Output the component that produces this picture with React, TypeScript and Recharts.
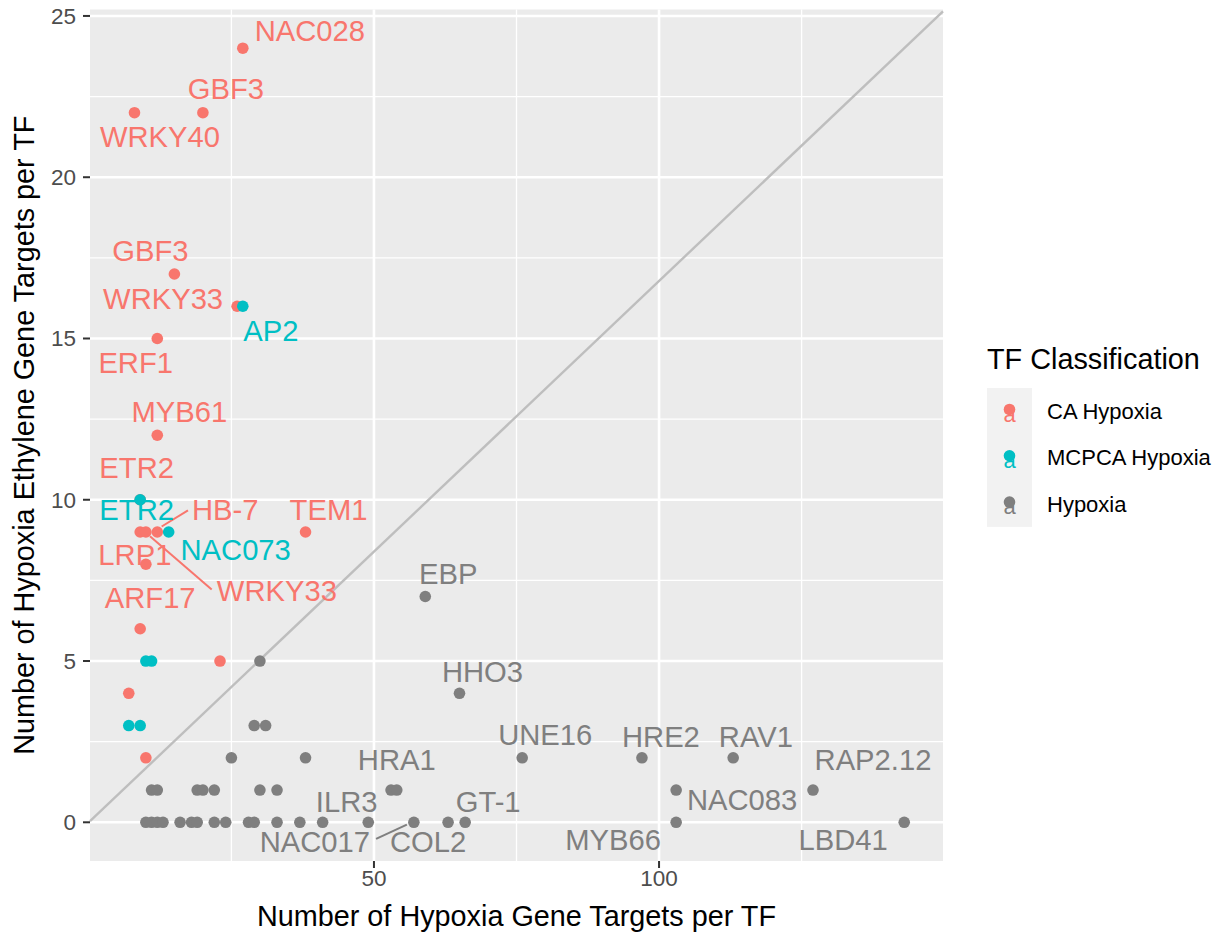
import { ScatterChart, Scatter, XAxis, YAxis, CartesianGrid, ReferenceLine } from 'recharts';

const FONT = "'Liberation Sans', Arial, Helvetica, sans-serif";

const COLORS = {
  ca: '#F8766D',
  mcpca: '#00BFC4',
  hypoxia: '#7F7F7F',
  panel: '#EBEBEB',
  keyBg: '#F2F2F2',
  diag: '#BEBEBE',
  tickText: '#4D4D4D',
  tick: '#333333',
};

// CA Hypoxia TFs (x = hypoxia targets, y = hypoxia ethylene targets)
const CA_NAMES = ['NAC028', 'GBF3', 'WRKY40', 'GBF3', 'WRKY33', 'ERF1', 'MYB61', 'ETR2', '', 'WRKY33', 'HB-7', 'TEM1', 'LRP1', 'ARF17', '', '', ''];
const CA_X = [27, 20, 8, 15, 26, 12, 12, 9, 9, 10, 12, 38, 10, 9, 23, 7, 10];
const CA_Y = [24, 22, 22, 17, 16, 15, 12, 10, 9, 9, 9, 9, 8, 6, 5, 4, 2];

// MCPCA Hypoxia TFs
const MCPCA_NAMES = ['AP2', 'ETR2', 'NAC073', '', '', '', ''];
const MCPCA_X = [27, 9, 14, 10, 11, 7, 9];
const MCPCA_Y = [16, 10, 9, 5, 5, 3, 3];

// Hypoxia-only TFs
const HYP_NAMES = [
  'EBP', 'HHO3', '', '', '', '', '', 'UNE16', 'HRE2', 'RAV1',
  '', '', '', '', '', '', '', '', 'HRA1', 'NAC083', 'RAP2.12',
  '', '', '', '', '', '', '', '', '', '', '', '', '', 'ILR3', '', 'NAC017', 'COL2', 'GT-1', 'MYB66', 'LBD41',
];
const HYP_X = [
  59, 65, 30, 29, 31, 25, 38, 76, 97, 113,
  11, 12, 19, 20, 22, 30, 33, 53, 54, 103, 127,
  10, 11, 12, 13, 16, 18, 19, 22, 24, 28, 29, 33, 37, 41, 49, 57, 63, 66, 103, 143,
];
const HYP_Y = [
  7, 4, 5, 3, 3, 2, 2, 2, 2, 2,
  1, 1, 1, 1, 1, 1, 1, 1, 1, 1, 1,
  0, 0, 0, 0, 0, 0, 0, 0, 0, 0, 0, 0, 0, 0, 0, 0, 0, 0, 0, 0,
];

const CLASS_NAMES = ['CA Hypoxia', 'MCPCA Hypoxia', 'Hypoxia'];

const X_TICKS = [50, 100];
const X_MINOR = [25, 75, 125];
const Y_TICKS = [0, 5, 10, 15, 20, 25];
const Y_MINOR = [2.5, 7.5, 12.5, 17.5, 22.5];
const X_DOMAIN: [number, number] = [0.2, 149.8];
const Y_DOMAIN: [number, number] = [-1.2, 25.2];

// reference line through the origin: max ethylene targets / max hypoxia targets
const DIAG_SLOPE = 24 / 143;

// chart geometry
const W = 1227;
const H = 934;
const PLOT_LEFT = 90;
const PLOT_RIGHT = 943;
const PLOT_TOP = 9.5;
const PLOT_BOTTOM = 861;

const LABEL_SIZE = 29.2;
const POINT_R = 5.8;

// repelled label placement, px offsets from the point centre (label centre),
// plus optional leader segment [x1, y1, x2, y2] relative to the point
type LabelPos = { dx: number; dy: number; seg?: [number, number, number, number] };
const LABEL_POS: Record<string, LabelPos> = {
  'ca-0': { dx: 67, dy: -18 },
  'ca-1': { dx: 23, dy: -24 },
  'ca-2': { dx: 25.5, dy: 23.5 },
  'ca-3': { dx: -24, dy: -23 },
  'ca-4': { dx: -74, dy: -8 },
  'ca-5': { dx: -21.6, dy: 24 },
  'ca-6': { dx: 22, dy: -24 },
  'ca-7': { dx: -3.5, dy: -32 },
  'ca-9': { dx: 131, dy: 59, seg: [4.1, 4.3, 65.8, 57.5] },
  'ca-10': { dx: 68, dy: -22, seg: [4.4, -5.5, 30.7, -21.7] },
  'ca-11': { dx: 23, dy: -22 },
  'ca-12': { dx: -11, dy: -10 },
  'ca-13': { dx: 10, dy: -31 },
  'mcpca-0': { dx: 28, dy: 24 },
  'mcpca-1': { dx: -3.5, dy: 10 },
  'mcpca-2': { dx: 67, dy: 17.5 },
  'hyp-0': { dx: 23, dy: -23 },
  'hyp-1': { dx: 23, dy: -22 },
  'hyp-7': { dx: 23, dy: -23 },
  'hyp-8': { dx: 19, dy: -21.5 },
  'hyp-9': { dx: 22.7, dy: -21.5 },
  'hyp-18': { dx: 0, dy: -30 },
  'hyp-19': { dx: 66, dy: 9.5 },
  'hyp-20': { dx: 60, dy: -30 },
  'hyp-34': { dx: 24, dy: -21 },
  'hyp-36': { dx: -99, dy: 19, seg: [-7, 2.3, -37.8, 16.6] },
  'hyp-37': { dx: -20, dy: 19 },
  'hyp-38': { dx: 23, dy: -21 },
  'hyp-39': { dx: -63, dy: 17 },
  'hyp-40': { dx: -61, dy: 17 },
};

type Pt = { x: number; y: number; name: string; color: string; key: string };

const build = (id: string, names: string[], xs: number[], ys: number[], color: string): Pt[] =>
  names.map((name, i) => ({ x: xs[i], y: ys[i], name, color, key: `${id}-${i}` }));

const caPoints = build('ca', CA_NAMES, CA_X, CA_Y, COLORS.ca);
const mcpcaPoints = build('mcpca', MCPCA_NAMES, MCPCA_X, MCPCA_Y, COLORS.mcpca);
const hypPoints = build('hyp', HYP_NAMES, HYP_X, HYP_Y, COLORS.hypoxia);
const labelPoints = [...caPoints, ...mcpcaPoints, ...hypPoints].filter((p) => p.name && LABEL_POS[p.key]);

const Dot = (props: any) => (
  <circle cx={props.cx} cy={props.cy} r={POINT_R} fill={props.payload.color} />
);

const RepelLabel = (props: any) => {
  const p: Pt = props.payload;
  const pos = LABEL_POS[p.key];
  const { cx, cy } = props;
  return (
    <g>
      {pos.seg && (
        <line
          x1={cx + pos.seg[0]} y1={cy + pos.seg[1]}
          x2={cx + pos.seg[2]} y2={cy + pos.seg[3]}
          stroke={p.color} strokeWidth={2}
        />
      )}
      <text
        x={cx + pos.dx}
        y={cy + pos.dy + LABEL_SIZE * 0.358}
        textAnchor="middle"
        fontSize={LABEL_SIZE}
        fontFamily={FONT}
        fill={p.color}
      >
        {p.name}
      </text>
    </g>
  );
};

const XTick = ({ x, y, payload }: any) => (
  <text x={x} y={y + 18} textAnchor="middle" fontSize={22.5} fontFamily={FONT} fill={COLORS.tickText}>
    {payload.value}
  </text>
);

const YTick = ({ x, y, payload }: any) => (
  <text x={x} y={y + 8} textAnchor="end" fontSize={22.5} fontFamily={FONT} fill={COLORS.tickText}>
    {payload.value}
  </text>
);

const XTitle = () => (
  <text x={(PLOT_LEFT + PLOT_RIGHT) / 2} y={926} textAnchor="middle" fontSize={28.8} fontFamily={FONT} fill="#000">
    Number of Hypoxia Gene Targets per TF
  </text>
);

const YTitle = () => (
  <text
    transform={`translate(34, ${(PLOT_TOP + PLOT_BOTTOM) / 2}) rotate(-90)`}
    textAnchor="middle"
    fontSize={28.8}
    fontFamily={FONT}
    fill="#000"
  >
    Number of Hypoxia Ethylene Gene Targets per TF
  </text>
);

function ClassLegend() {
  const colors = [COLORS.ca, COLORS.mcpca, COLORS.hypoxia];
  const keyTop = 388;
  const keyH = 46.3;
  return (
    <svg width={W} height={H} style={{ position: 'absolute', left: 0, top: 0, pointerEvents: 'none' }}>
      <text x={987} y={369} fontSize={28.8} fontFamily={FONT} fill="#000">TF Classification</text>
      <rect x={987} y={keyTop} width={45} height={keyH * 3} fill={COLORS.keyBg} />
      {CLASS_NAMES.map((name, i) => {
        const cy = keyTop + keyH * (i + 0.5);
        return (
          <g key={name}>
            <circle cx={1009.5} cy={cy - 1.7} r={POINT_R} fill={colors[i]} />
            <text x={1009.5} y={cy + 10.5} textAnchor="middle" fontSize={22} fontFamily={FONT} fill={colors[i]}>a</text>
            <text x={1047} y={cy + 8} fontSize={22} fontFamily={FONT} fill="#000">{name}</text>
          </g>
        );
      })}
    </svg>
  );
}

export default function App() {
  return (
    <div style={{ position: 'absolute', left: 0, top: 0, width: W, height: H, background: '#fff' }}>
      <ScatterChart
        width={W}
        height={H}
        margin={{ top: PLOT_TOP, right: W - PLOT_RIGHT, bottom: 0, left: 0 }}
      >
        <CartesianGrid
          horizontalValues={Y_MINOR}
          verticalValues={X_MINOR}
          stroke="#FFFFFF"
          strokeWidth={1.3}
          fill={COLORS.panel}
        />
        <CartesianGrid
          horizontalValues={Y_TICKS}
          verticalValues={X_TICKS}
          stroke="#FFFFFF"
          strokeWidth={2.6}
          fill="none"
        />
        <XAxis
          type="number"
          dataKey="x"
          domain={X_DOMAIN}
          allowDataOverflow
          ticks={X_TICKS}
          interval={0}
          height={H - PLOT_BOTTOM}
          axisLine={false}
          tickLine={{ stroke: COLORS.tick, strokeWidth: 2 }}
          tickSize={7}
          tickMargin={0}
          tick={XTick}
          label={{ content: XTitle }}
        />
        <YAxis
          type="number"
          dataKey="y"
          domain={Y_DOMAIN}
          allowDataOverflow
          ticks={Y_TICKS}
          interval={0}
          width={PLOT_LEFT}
          axisLine={false}
          tickLine={{ stroke: COLORS.tick, strokeWidth: 2 }}
          tickSize={7}
          tickMargin={7}
          tick={YTick}
          label={{ content: YTitle }}
        />
        <ReferenceLine
          segment={[
            { x: X_DOMAIN[0], y: X_DOMAIN[0] * DIAG_SLOPE },
            { x: X_DOMAIN[1], y: X_DOMAIN[1] * DIAG_SLOPE },
          ]}
          stroke={COLORS.diag}
          strokeWidth={2.4}
          ifOverflow="visible"
        />
        <Scatter name="CA Hypoxia" data={caPoints} shape={Dot} isAnimationActive={false} />
        <Scatter name="MCPCA Hypoxia" data={mcpcaPoints} shape={Dot} isAnimationActive={false} />
        <Scatter name="Hypoxia" data={hypPoints} shape={Dot} isAnimationActive={false} />
        <Scatter name="labels" data={labelPoints} shape={RepelLabel} isAnimationActive={false} />
      </ScatterChart>
      <ClassLegend />
    </div>
  );
}
